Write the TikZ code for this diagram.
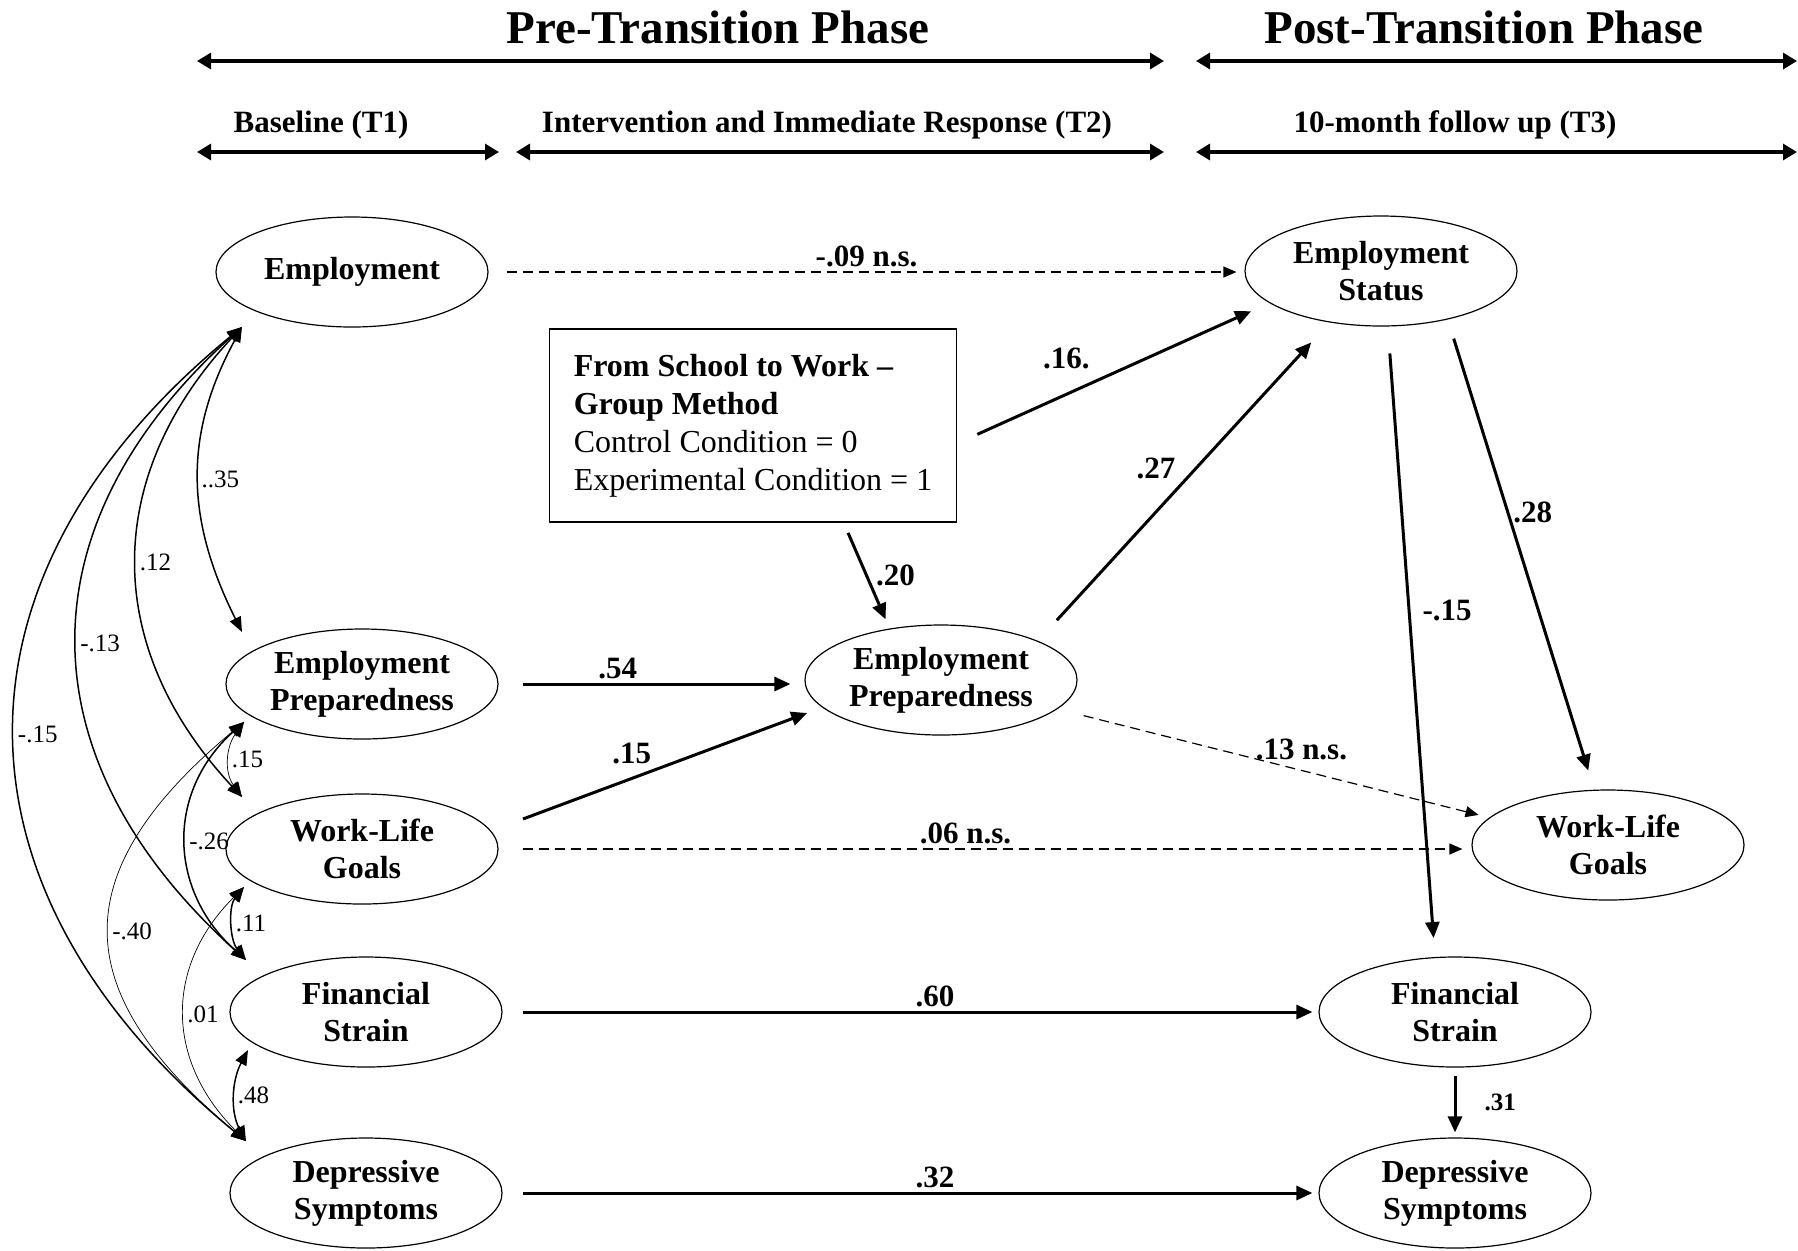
\documentclass[tikz,border=0pt]{standalone}
\usepackage{fontspec}
\setmainfont{Liberation Serif}
\usepackage{tikz}
\usetikzlibrary{arrows.meta,positioning,shapes.geometric}

\begin{document}
\begin{tikzpicture}[
        x=0.5pt, y=-0.5pt,
        var/.style={
            ellipse,
            draw,
            line width=0.6pt,
            minimum width=136pt,
            minimum height=55pt,
            inner sep=0pt,
            align=center,
            font=\fontsize{16pt}{18.5pt}\selectfont\bfseries
        },
        effect/.style={line width=1.5pt, -{Triangle[length=8pt,width=7pt]}},
        nseffect/.style={line width=0.6pt, dash pattern=on 5pt off 3pt, -{Triangle[length=6.5pt,width=5.5pt]}},
        cor/.style={line width=0.75pt, {Triangle[length=7.5pt,width=6pt]}-{Triangle[length=7.5pt,width=6pt]}},
        thincor/.style={cor, line width=0.35pt},
        span/.style={line width=1.6pt, {Triangle[length=7pt,width=8pt]}-{Triangle[length=7pt,width=8pt]}},
        phase/.style={anchor=base, font=\fontsize{23.5pt}{28pt}\selectfont\bfseries},
        wave/.style={anchor=base, font=\fontsize{15.5pt}{18pt}\selectfont\bfseries},
        blab/.style={font=\fontsize{15.5pt}{18pt}\selectfont\bfseries, inner sep=2pt},
        slab/.style={font=\fontsize{12.5pt}{15pt}\selectfont\bfseries, inner sep=2pt},
        clab/.style={font=\fontsize{12.5pt}{15pt}\selectfont, inner sep=1pt, right}
    ]
    \useasboundingbox (0,0) rectangle (1798,1250);

    % phases and waves
    \node[phase] (pre) at (718,43) {Pre-Transition Phase};
    \node[phase] (post) at (1484,43) {Post-Transition Phase};
    \node[wave] (t1) at (321,132) {Baseline (T1)};
    \node[wave] (t2) at (827,132) {Intervention and Immediate Response (T2)};
    \node[wave] (t3) at (1455,132) {10-month follow up (T3)};

    \coordinate (pre-l) at (197,61);
    \coordinate (pre-r) at (1164,61);
    \coordinate (post-l) at (1196,61);
    \coordinate (post-r) at (1797,61);
    \coordinate (t1-l) at (197,152);
    \coordinate (t1-r) at (499,152);
    \coordinate (t2-l) at (516,152);
    \coordinate (t2-r) at (1164,152);
    \coordinate (t3-l) at (1196,152);
    \coordinate (t3-r) at (1797,152);
    \draw[span] (pre-l) -- (pre-r);
    \draw[span] (post-l) -- (post-r);
    \draw[span] (t1-l) -- (t1-r);
    \draw[span] (t2-l) -- (t2-r);
    \draw[span] (t3-l) -- (t3-r);

    % baseline measures
    \node[var] (emp1) at (352,272) {Employment};
    \node[var] (ep1) at (362,684) {Employment\\Preparedness};
    \node[var] (wlg1) at (362,849) {Work-Life\\Goals};
    \node[var] (fs1) at (366,1012) {Financial\\Strain};
    \node[var] (ds1) at (366,1193) {Depressive\\Symptoms};

    % intervention
    \node[
        draw,
        line width=0.75pt,
        minimum width=203.5pt,
        minimum height=96.5pt,
        inner sep=0pt,
        align=left,
        font=\fontsize{16pt}{19pt}\selectfont
    ] (swm) at (753,425.5) {
        \textbf{From School to Work --}\\
        \textbf{Group Method}\\
        Control Condition = 0\\
        Experimental Condition = 1
    };
    \node[var] (ep2) at (941,680) {Employment\\Preparedness};

    % follow up
    \node[var] (es) at (1381,271) {Employment\\Status};
    \node[var] (wlg3) at (1608,845) {Work-Life\\Goals};
    \node[var] (fs3) at (1455,1012) {Financial\\Strain};
    \node[var] (ds3) at (1455,1193) {Depressive\\Symptoms};

    % paths
    \draw[nseffect, shorten <=9pt, shorten >=4pt] (emp1.east) -- (emp1.east -| es.west)
        node[blab, pos=0.5, above] (l09) {-.09 n.s.};
    \draw[effect, shorten <=11pt, shorten >=10pt] (swm.-5) -- (es.196)
        node[blab, pos=0.35, above=10pt] (l16) {.16.};
    \draw[effect, shorten <=5.5pt, shorten >=5pt] (swm.-47) -- (ep2.135)
        node[blab, pos=0.5, right=2pt] (l20) {.20};
    \draw[effect, shorten <=14pt, shorten >=13.5pt] (ep2.22) -- (es.225)
        node[blab, pos=0.49, above left] (l27) {.27};
    \draw[effect, shorten <=12pt, shorten >=7pt] (ep1.east) -- (ep1.east -| ep2.west)
        node[blab, pos=0.39, above] (l54) {.54};
    \draw[effect, shorten <=17pt, shorten >=8pt] (wlg1.8) -- (ep2.193)
        node[blab, pos=0.5, above left] (l15) {.15};
    \draw[nseffect, shorten <=12pt, shorten >=4.5pt] (wlg1.east) -- (wlg1.east -| wlg3.west)
        node[blab, pos=0.48, above] (l06) {.06 n.s.};
    \draw[nseffect, shorten <=13.5pt, shorten >=5.5pt] (ep2.346) -- (wlg3.167)
        node[blab, pos=0.565, above=3pt] (l13) {.13 n.s.};
    \draw[effect, shorten <=13.5pt, shorten >=9.5pt] (es.277) -- (fs3.110)
        node[blab, pos=0.45, right=4pt] (l15b) {-.15};
    \draw[effect, shorten <=10pt, shorten >=10pt] (es.324) -- (wlg3.104)
        node[blab, pos=0.41, right] (l28) {.28};
    \draw[effect, shorten <=10pt, shorten >=3pt] (fs1.east) -- (fs1.east -| fs3.west)
        node[blab, pos=0.53, above] (l60) {.60};
    \draw[effect, shorten <=10pt, shorten >=3pt] (ds1.east) -- (ds1.east -| ds3.west)
        node[blab, pos=0.53, above] (l32) {.32};
    \draw[effect, shorten <=4pt, shorten >=2.5pt] (fs3) -- (ds3)
        node[slab, pos=0.5, right=12pt] (l31) {.31};

    % correlations at baseline
    \coordinate (emp1-out) at ([shift={(-110,55)}]emp1.center);
    \coordinate (ep1-in) at ([shift={(-120,-52)}]ep1.center);
    \coordinate (ep1-out) at ([shift={(-118,38)}]ep1.center);
    \coordinate (wlg1-in) at ([shift={(-120,-52)}]wlg1.center);
    \coordinate (wlg1-out) at ([shift={(-118,38)}]wlg1.center);
    \coordinate (fs1-in) at ([shift={(-120,-52)}]fs1.center);
    \coordinate (fs1-out) at ([shift={(-118,38)}]fs1.center);
    \coordinate (ds1-in) at ([shift={(-120,-52)}]ds1.center);

    \draw[cor] (emp1-out) .. controls +(-60,110) and +(-55,-110) .. (ep1-in)
        node[clab, pos=0.5] (c35) {..35};
    \draw[cor] (emp1-out) .. controls +(-140,150) and +(-140,-150) .. (wlg1-in)
        node[clab, pos=0.5] (c12) {.12};
    \draw[cor] (emp1-out) .. controls +(-222,200) and +(-222,-200) .. (fs1-in)
        node[clab, pos=0.5] (c13) {-.13};
    \draw[cor] (emp1-out) .. controls +(-305,250) and +(-305,-250) .. (ds1-in)
        node[clab, pos=0.5] (c15) {-.15};
    \draw[thincor] (ep1-out) .. controls +(-18,25) and +(-18,-25) .. (wlg1-in)
        node[clab, pos=0.5] (c15b) {.15};
    \draw[cor] (ep1-out) .. controls +(-78,70) and +(-78,-70) .. (fs1-in)
        node[clab, pos=0.5] (c26) {-.26};
    \draw[thincor] (ep1-out) .. controls +(-180,150) and +(-180,-150) .. (ds1-in)
        node[clab, pos=0.5] (c40) {-.40};
    \draw[cor] (wlg1-out) .. controls +(-16,20) and +(-16,-20) .. (fs1-in)
        node[clab, pos=0.5] (c11) {.11};
    \draw[thincor] (wlg1-out) .. controls +(-80,80) and +(-80,-80) .. (ds1-in)
        node[clab, pos=0.5] (c01) {.01};
    \draw[cor] (fs1-out) .. controls +(-16,30) and +(-16,-30) .. (ds1-in)
        node[clab, pos=0.5] (c48) {.48};
\end{tikzpicture}
\end{document}
